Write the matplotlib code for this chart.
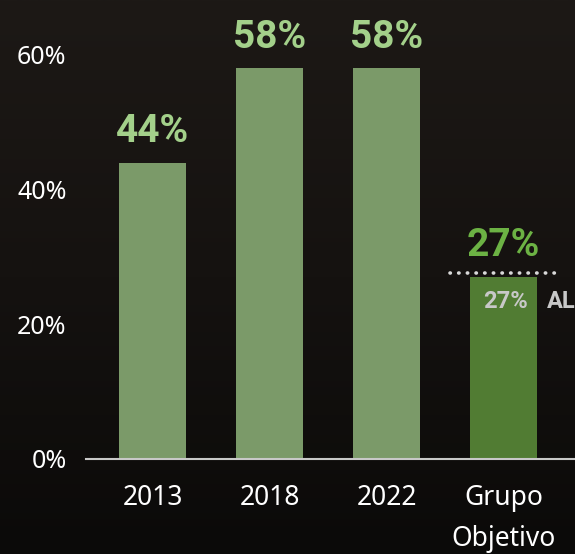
import numpy as np
import matplotlib
matplotlib.use("Agg")
import matplotlib.pyplot as plt
from matplotlib.colors import LinearSegmentedColormap
from matplotlib import transforms

plt.rcParams["font.family"] = ["Noto Sans", "DejaVu Sans"]
NEGRITO = ["Roboto", "DejaVu Sans"]

categorias = ["2013", "2018", "2022", "Grupo\nObjetivo"]
valores = [44, 58, 58, 27]
cores_barras = ["#7b9a69", "#7b9a69", "#7b9a69", "#517c33"]
cores_rotulos = ["#a3d08a", "#a3d08a", "#a3d08a", "#6cb244"]
ref_al = 27
yticks = [0, 20, 40, 60]

fig = plt.figure(figsize=(5.75, 5.54), dpi=100)

# fundo escuro com leve degrade vertical
fundo = fig.add_axes([0, 0, 1, 1], zorder=-10)
cmap = LinearSegmentedColormap.from_list("fundo", ["#0b0a09", "#151210", "#1d1916"])
fundo.imshow(np.linspace(0, 1, 256).reshape(-1, 1), cmap=cmap, aspect="auto",
             origin="lower", extent=[0, 1, 0, 1])
fundo.axis("off")

ax = fig.add_axes([86 / 575, 1 - 459 / 554, 1 - 86 / 575, (459 - 14.5) / 554])
ax.set_facecolor("none")

x = np.arange(len(categorias))
ax.bar(x, valores, width=0.57, color=cores_barras, zorder=2)

ax.set_xlim(-0.57, 3.61)
ax.set_ylim(0, 66)
ax.set_yticks(yticks)
ax.set_yticklabels(["%d%%" % v for v in yticks])
ax.set_xticks(x)
ax.set_xticklabels(categorias, linespacing=1.6)
ax.tick_params(axis="y", length=0, pad=14, labelsize=18, labelcolor="white")
ax.tick_params(axis="x", length=0, pad=18, labelsize=19, labelcolor="white")
for t in ax.get_xticklabels():
    t.set_verticalalignment("top")

for lado in ["top", "right", "left"]:
    ax.spines[lado].set_visible(False)
ax.spines["bottom"].set_color("#c8c8c8")
ax.spines["bottom"].set_linewidth(1.5)

# rotulos de valor acima das barras
for xi, v, c in zip(x, valores, cores_rotulos):
    ax.annotate("%d%%" % v, (xi, v), xytext=(0, 15), textcoords="offset points",
                ha="center", va="baseline", fontsize=28, fontweight="bold",
                family=NEGRITO, color=c)

# linha de referencia AL (pontilhada, um pouco acima do topo da barra)
acima = transforms.offset_copy(ax.transData, fig=fig, y=4, units="dots")
ax.plot([3 - 0.46, 3 + 0.48], [ref_al, ref_al], ls=(0, (0.1, 2.3)), lw=2.6,
        color="#d9d9d9", dash_capstyle="round", zorder=3, clip_on=False,
        transform=acima)
abaixo = transforms.offset_copy(ax.transData, fig=fig, y=-31, units="dots")
ax.text(3.02, ref_al, "%d%%" % ref_al, transform=abaixo, ha="center", va="baseline",
        fontsize=17, fontweight="bold", family=NEGRITO, color="#c8c8c8", zorder=4)
ax.text(3.37, ref_al, "AL", transform=abaixo, ha="left", va="baseline",
        fontsize=17, fontweight="bold", family=NEGRITO, color="#c8c8c8", zorder=4,
        clip_on=False)

fig.savefig("out.png", dpi=100, facecolor="#141110")
